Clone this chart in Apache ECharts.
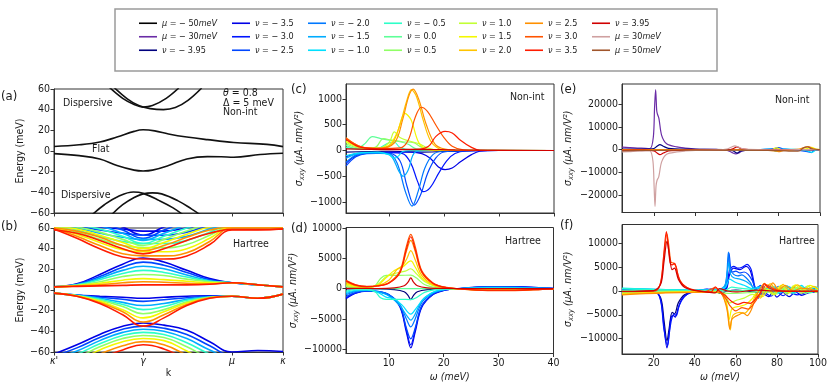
<!DOCTYPE html>
<html>
<head>
<meta charset="utf-8">
<script src="https://cdn.jsdelivr.net/npm/echarts@6/dist/echarts.min.js"></script>
<style>
html, body { margin: 0; padding: 0; background: #fff; }
#chart { width: 830px; height: 384px; }
</style>
</head>
<body>
<div id="chart"></div>
<script>
// ---------- data ----------
const nuKeys = ['-3.95', '-3.5', '-3.0', '-2.5', '-2.0', '-1.5', '-1.0', '-0.5', '0.0', '0.5', '1.0', '1.5', '2.0', '2.5', '3.0', '3.5', '3.95'];
const nuColors = ['#00007e', '#0000e6', '#0014ff', '#0046ff', '#0078ff', '#00acff', '#00e0ff', '#2dffc8', '#5eff98', '#90ff66', '#c2ff34', '#f4f800', '#ffc400', '#ff9000', '#ff5400', '#ff1c00', '#d00000'];
const muNames = ['μ = − 50meV', 'μ = − 30meV', 'μ = 30meV', 'μ = 50meV'];
const muColors = ['#000000', '#6a2ca6', '#cfa0a0', '#a0552b'];

const kTicks = [0, 0.389, 0.777, 1];
const kLabels = ["κ'", 'γ', 'μ', 'κ'];

// (a) non-interacting bands, [k, E(meV)]
const aFlatUp = [[0, 4.4], [0.11, 6], [0.2, 8.7], [0.275, 13.5], [0.35, 19], [0.389, 20.5], [0.44, 19.5], [0.5, 16.5], [0.58, 13.5], [0.67, 11], [0.785, 8.3], [0.93, 6.4], [1, 4.2]];
const aFlatDown = [[0, -2.5], [0.11, -4.5], [0.2, -7.7], [0.275, -14], [0.35, -18.5], [0.389, -19.3], [0.43, -18.5], [0.5, -14], [0.58, -7.7], [0.67, -5.4], [0.73, -5.5], [0.785, -6], [0.9, -3.4], [1, -2.2]];
const aDispUp1 = [[0.24, 62], [0.3, 51], [0.35, 45], [0.389, 42.5], [0.43, 44], [0.49, 51], [0.545, 61]];
const aDispUp2 = [[0.26, 62], [0.32, 50.5], [0.37, 44], [0.42, 41], [0.478, 40], [0.53, 42], [0.585, 49], [0.645, 61]];
const aDispLow1 = [[0.165, -62], [0.22, -52], [0.28, -44], [0.347, -39.7], [0.389, -41], [0.46, -48], [0.52, -55], [0.565, -62]];
const aDispLow2 = [[0.25, -62], [0.3, -52], [0.35, -45], [0.389, -41.5], [0.43, -40.5], [0.47, -41.5], [0.54, -48], [0.6, -56], [0.64, -62]];

// (b) Hartree bands: E(meV) at kB for each filling in bNu
const kB = [0, 0.1, 0.2, 0.3, 0.389, 0.48, 0.58, 0.68, 0.777, 0.89, 1];
const bNu = ['-3.5', '-2.5', '-1.5', '-0.5', '0.5', '1.5', '2.5', '3.5'];
const bUpU = [
  [66, 64, 61, 59, 57, 57, 60, 65, 66, 66, 66],
  [65, 62, 58, 55, 53, 53, 56, 62, 65, 65, 65],
  [64, 60, 55, 51, 49, 49, 52, 59, 64, 64, 64],
  [63, 58, 52, 47, 45, 45, 48, 56, 63, 63, 63],
  [62, 56, 49, 43, 41, 41, 44, 53, 62, 62, 62],
  [61, 54, 46, 39, 37, 37, 40, 50, 61, 61, 61],
  [60, 52, 43, 35, 33, 33, 36, 47, 60, 60, 60],
  [59, 50, 40, 32, 30, 30, 33, 44, 58, 58, 59]
];
const bUpV = [
  [70, 70, 68, 61, 53, 61, 68, 70, 70, 70, 70],
  [70, 68, 65, 58, 50, 58, 66, 70, 70, 70, 70],
  [68, 66, 62, 55, 48, 55, 63, 68, 70, 70, 70],
  [66, 63, 59, 52, 45, 52, 60, 66, 68, 68, 68],
  [64, 61, 56, 49, 43, 49, 57, 64, 66, 66, 66],
  [62, 59, 53, 46, 40, 46, 54, 61, 63, 63, 63],
  [60, 57, 51, 43, 38, 43, 51, 58, 61, 61, 61],
  [58, 55, 48, 40, 35, 40, 48, 55, 58.5, 58.5, 59]
];
const bUpFlat = [
  [3, 6, 15, 25, 31, 27, 19, 11, 7, 5, 3],
  [3, 5.5, 13, 22, 27, 24, 17, 10, 7, 5, 3],
  [3, 5, 11.5, 19, 23, 20.5, 14.5, 9, 7, 5, 3],
  [3, 5, 10, 16, 19, 17, 12.5, 8.5, 7, 5, 3],
  [3, 4.5, 8, 13, 15, 14, 10.5, 8, 7, 5, 3],
  [3, 4, 6.5, 9.5, 11, 10, 8.5, 7, 7, 5, 3],
  [3, 4, 5, 7, 8, 7.5, 6.5, 6, 7, 5, 3],
  [3, 3.5, 4, 4.5, 5, 5, 5, 5.5, 7, 5, 3]
];
const bLowFlat = [
  [-3, -5, -6, -7, -8, -7, -6, -5.5, -6, -8, -4],
  [-3, -5, -7, -9, -11, -9.5, -7.5, -6, -6, -8, -4],
  [-3, -5, -8, -12, -15, -13, -9, -6.5, -6, -8, -4],
  [-3, -5.5, -9, -14, -19, -16, -10, -7, -6, -8, -4],
  [-3, -5.5, -10, -16, -23, -19, -11.5, -7, -6, -8, -4],
  [-3, -5.5, -11, -19, -27, -21, -12.5, -7.5, -6, -8, -4],
  [-3, -6, -12, -21, -31, -24, -14, -7.5, -6, -8, -4],
  [-3, -6, -13, -24, -35, -27, -15, -8, -6, -8, -4]
];
const bLowHill = [
  [-62, -53, -43, -35, -32, -34, -39, -50, -60, -58.5, -59.5],
  [-64, -56, -46, -38, -35, -37, -43, -54, -63, -62, -62],
  [-66, -59, -49, -41, -38, -40, -47, -58, -66, -65, -65],
  [-68, -62, -52, -44, -41, -43, -51, -62, -69, -68, -68],
  [-70, -65, -55, -47, -44, -46, -55, -66, -72, -70, -70],
  [-72, -68, -58, -50, -47, -49, -59, -70, -75, -72, -72],
  [-74, -71, -62, -54, -50, -53, -63, -73, -78, -75, -75],
  [-76, -74, -66, -58, -53, -57, -67, -76, -80, -78, -78]
];

// (c) non-interacting sigma_xxy, [omega(meV), value], one curve per nuKeys entry
const cCurves = [
  [[2.2, -30], [10, -15], [16, -30], [20, -20], [28, 0], [40, 0]],
  [[2.2, -120], [4, -60], [6, -40], [10, -30], [14, -30], [16, -60], [17.5, -150], [19, -320], [20.2, -370], [21.5, -340], [23, -220], [25, -80], [26.5, -15], [30, 0], [40, 0]],
  [[2.2, -250], [4, -100], [6, -50], [10, -40], [12.5, -60], [14, -250], [15.2, -600], [16.2, -800], [17.5, -720], [19, -450], [20.5, -200], [22, -60], [24, -10], [30, 0], [40, 0]],
  [[2.2, -300], [4, -120], [6, -60], [10, -50], [12, -200], [13.3, -700], [14.6, -1060], [15.8, -850], [17, -450], [18.5, -150], [20, -30], [25, 0], [40, 0]],
  [[2.2, -230], [4, -90], [6, -50], [10, -60], [11.5, -250], [13, -800], [14.2, -1080], [15.3, -800], [16.5, -350], [18, -80], [20, -10], [25, 0], [40, 0]],
  [[2.2, -150], [4, -70], [6, -40], [9, -50], [10.5, -120], [11.8, -400], [12.6, -500], [13.5, -380], [14.3, -100], [15, -20], [18, 0], [40, 0]],
  [[2.2, -100], [5, -40], [8, -30], [10, -80], [11, -150], [11.8, -100], [12.5, -20], [15, 0], [40, 0]],
  [[2.2, 60], [5, 20], [8, 40], [10, 150], [11, 160], [12, 60], [14, 10], [40, 0]],
  [[2.2, 100], [4, 40], [5.5, 120], [7, 270], [8.5, 230], [10, 200], [12, 170], [13.5, 120], [15, 30], [18, 0], [40, 0]],
  [[2.2, 130], [5, 40], [7.5, 60], [9, 230], [10.5, 200], [12.5, 170], [14.5, 150], [16, 60], [18, 5], [40, 0]],
  [[2.2, 160], [5, 50], [8, 40], [10, 150], [11, 360], [12, 250], [13.5, 190], [15.5, 130], [17, 50], [19, 5], [40, 0]],
  [[2.2, 180], [5, 60], [8, 40], [10, 100], [11.5, 350], [12.9, 720], [14, 600], [15.3, 180], [16.5, 40], [19, 0], [40, 0]],
  [[2.2, 220], [5, 60], [8, 40], [10.5, 130], [12, 500], [13.2, 950], [14.1, 1180], [15, 1050], [16.2, 600], [17.5, 200], [19, 40], [21, 0], [40, 0]],
  [[2.2, 250], [5, 70], [8, 40], [11, 150], [12.5, 600], [13.6, 1050], [14.4, 1190], [15.4, 1000], [16.8, 500], [18.4, 120], [20.2, 25], [23, 0], [40, 0]],
  [[2.2, 240], [5, 70], [8, 40], [12, 50], [13.5, 200], [14.8, 650], [15.9, 840], [17, 760], [18.5, 500], [20, 250], [21.5, 80], [23.5, 10], [26, 0], [40, 0]],
  [[2.2, 220], [5, 60], [10, 30], [15, 20], [17.2, 80], [18.5, 270], [20.2, 370], [21.5, 340], [23, 200], [25, 60], [26.5, 5], [30, 0], [40, 0]],
  [[2.2, 30], [10, 15], [16, 20], [22, 10], [40, 0]]
];

// (d) Hartree sigma_xxy, one curve per nuKeys entry
const dCurves = [
  [[2.2, -50], [8, -40], [11, -150], [12.8, -500], [13.5, -1100], [14, -1800], [14.5, -1100], [15.2, -500], [17, -150], [20, -40], [40, 0]],
  [[2.2, -1650], [4, -750], [6, -420], [8, -520], [10, -1050], [12, -3000], [13.2, -7200], [14, -9800], [14.8, -7200], [16, -3100], [18, -1000], [20, -300], [23, 50], [28, 350], [33, 360], [38, 150], [40, 60]],
  [[2.2, -1500], [4, -680], [6, -380], [8, -480], [10, -1000], [12, -2800], [13.2, -6800], [14, -9300], [14.8, -6800], [16, -2900], [18, -950], [20, -280], [23, 40], [28, 320], [33, 330], [38, 130], [40, 50]],
  [[2.2, -1300], [4, -600], [6, -350], [8, -450], [10, -950], [12, -2700], [13.2, -6500], [14, -8300], [14.8, -6500], [16, -2800], [18, -900], [20, -250], [23, 40], [28, 300], [33, 300], [38, 120], [40, 40]],
  [[2.2, -1000], [4, -450], [6, -300], [8, -450], [10, -1000], [12, -2600], [13.2, -5000], [14, -6300], [14.8, -5000], [16, -2300], [18, -750], [20, -200], [23, 30], [28, 250], [33, 230], [38, 80], [40, 30]],
  [[2.2, -800], [4, -350], [6, -250], [8, -500], [10, -1200], [12, -2800], [13.3, -4500], [14, -5200], [14.8, -4200], [16, -2000], [18, -650], [20, -150], [23, 30], [28, 200], [33, 180], [38, 60], [40, 20]],
  [[2.2, -600], [4, -250], [6, -200], [8, -600], [9.5, -1400], [11, -1700], [12.5, -2800], [14, -4200], [15, -3200], [16.5, -1500], [18.5, -400], [21, -50], [28, 150], [33, 120], [40, 10]],
  [[2.2, -400], [4, -150], [6, -150], [7.5, -500], [8.5, -1500], [9.5, -1750], [12, -1750], [14, -1800], [15, -1500], [16.5, -600], [18.5, -150], [21, -20], [28, 60], [40, 0]],
  [[2.2, 100], [6, 30], [10, 20], [14, 40], [20, 10], [40, 0]],
  [[2.2, 400], [4, 150], [6, 150], [7.5, 500], [8.5, 1700], [9.5, 2200], [12, 2200], [14, 2250], [15, 1800], [16.5, 700], [18.5, 200], [21, 20], [28, -60], [40, 0]],
  [[2.2, 600], [4, 250], [6, 200], [8, 700], [9.5, 2000], [11, 2500], [13, 2900], [14, 3300], [15, 2500], [16.5, 1200], [18.5, 400], [21, 50], [28, -120], [33, -100], [40, -10]],
  [[2.2, 800], [4, 350], [6, 250], [8, 600], [9.5, 1800], [11, 3000], [12.5, 3600], [14, 4600], [14.8, 3600], [16, 1800], [18, 600], [20, 150], [23, -20], [28, -180], [33, -160], [38, -60], [40, -20]],
  [[2.2, 1000], [4, 450], [6, 300], [8, 500], [10, 1400], [11.5, 3200], [12.5, 3800], [13.3, 5000], [14, 6300], [14.8, 4800], [16, 2200], [18, 700], [20, 200], [23, -30], [28, -220], [33, -200], [38, -80], [40, -30]],
  [[2.2, 1200], [4, 550], [6, 330], [8, 450], [10, 950], [12, 2700], [13.2, 6200], [14, 8000], [14.8, 6200], [16, 2700], [18, 900], [20, 250], [23, -40], [28, -280], [33, -250], [38, -100], [40, -40]],
  [[2.2, 1400], [4, 650], [6, 380], [8, 500], [10, 1000], [12, 2900], [13.2, 7000], [14, 9000], [14.8, 7000], [16, 3000], [18, 1000], [20, 300], [23, -50], [28, -300], [33, -300], [38, -120], [40, -60]],
  [[2.2, 1300], [4, 600], [6, 350], [8, 450], [10, 900], [12, 2600], [13.2, 6500], [14, 8600], [14.8, 6500], [16, 2800], [18, 900], [20, 250], [23, -50], [28, -250], [33, -250], [38, -100], [40, -50]],
  [[2.2, 50], [8, 40], [11, 150], [12.8, 500], [13.5, 1100], [14, 1800], [14.5, 1100], [15.2, 500], [17, 150], [20, 40], [40, 0]]
];

// (e) non-interacting, wide range: named curves
const eNames = ['μ = − 50meV', 'μ = − 30meV', 'ν = − 3.95', 'ν = − 2.5', 'ν = − 1.0', 'ν = 1.5', 'ν = 2.5', 'ν = 3.95', 'μ = 30meV', 'μ = 50meV'];
const eCurves = [
  [[4.6, -200], [20, -100], [40, -50], [60, 0], [80, 0], [100, 0]],
  [[4.6, 1100], [8, 900], [12, 700], [16, 600], [18.1, 440], [19.7, 5600], [20.3, 18800], [20.8, 26500], [21.3, 17500], [21.6, 15900], [22.4, 13700], [23.7, 6300], [26.1, 2600], [31, 1200], [35, 700], [40, 300], [50, 100], [55, -200], [57.5, -1200], [59.5, -1900], [61, -1400], [62.5, -600], [64, -300], [70, 0], [80, 100], [90, 0], [100, 0]],
  [[4.6, 300], [15, 200], [20, 500], [21.5, 1500], [22.9, 2200], [24.5, 1500], [27, 600], [35, 200], [56, 0], [58, -500], [60, -1500], [62, -500], [70, 0], [100, 0]],
  [[4.6, 0], [70, 0], [78, 500], [80, 900], [83, 200], [90, -300], [94.5, -1000], [95.8, -1300], [97, -300], [100, 0]],
  [[4.6, 0], [70, 0], [76, 300], [79, -800], [82, 200], [90, 0], [94, -600], [96, -1200], [98, -200], [100, 0]],
  [[4.6, 0], [70, 0], [76, -300], [79, 800], [82, -200], [90, 0], [94, 500], [96, 1000], [98, 200], [100, 0]],
  [[4.6, 0], [70, 0], [78, -500], [80, -900], [83, -200], [90, 300], [94.5, 1300], [97, 300], [100, 0]],
  [[4.6, -300], [15, -200], [20, -500], [21.5, -1500], [22.9, -2200], [24.5, -1500], [27, -600], [35, -200], [56, 0], [58, 400], [60, 1200], [62, 400], [70, 0], [100, 0]],
  [[4.6, -1000], [8, -900], [12, -700], [16, -600], [18, -500], [19.5, -5000], [20.1, -17000], [20.5, -25000], [21, -16000], [21.5, -13500], [22.3, -12000], [23.7, -5400], [26.1, -2000], [31, -1000], [35, -600], [40, -300], [50, -100], [55, 200], [57.5, 1200], [59, 1700], [60.5, 1200], [62.5, 500], [64, 200], [70, 0], [80, -100], [90, 0], [100, 0]],
  [[4.6, -500], [20, -300], [40, -200], [60, -200], [80, -400], [88, -700], [90, -600], [92, 800], [94, 1200], [96, 400], [100, 0]]
];

// (f) Hartree, wide range: named curves
const fNames = ['ν = − 3.95', 'ν = − 3.5', 'ν = − 3.0', 'ν = − 2.5', 'ν = − 2.0', 'ν = − 1.5', 'ν = − 1.0', 'ν = − 0.5', 'ν = 0.0', 'ν = 0.5', 'ν = 1.0', 'ν = 1.5', 'ν = 2.0', 'ν = 2.5', 'ν = 3.0', 'ν = 3.5', 'ν = 3.95'];
const fCurves = [
  [[4.6, 50], [20, -100], [23.5, -1500], [25, -6000], [26.5, -10500], [27.5, -8000], [29, -4500], [30.2, -4800], [32, -2500], [35, -800], [40, -100], [45, 200], [50, 400], [52, -500], [56, 0], [60, 200], [70, -200], [80, 0], [100, 0]],
  [[4.6, 100], [15, 50], [21, -100], [23.5, -2000], [25, -7500], [26.5, -12000], [27.4, -9500], [28.5, -5500], [29.7, -5200], [30.5, -5500], [32, -3500], [34, -1500], [37, -500], [40, -100], [45, 300], [48, 400], [50, -200], [53, 0], [55.5, 500], [57, 3500], [59, 4800], [62, 4500], [65, 5200], [67, 4300], [69, 1000], [71, -1500], [73, -500], [76, -1200], [78, -200], [80, -1300], [83, -300], [86, -1200], [89, -200], [92, -900], [96, -300], [100, -200]],
  [[4.6, 150], [15, 80], [21, -100], [23.5, -2200], [25, -8000], [26.8, -11500], [27.6, -9000], [28.7, -6000], [30, -4800], [31, -5200], [32.5, -3000], [35, -1200], [38, -300], [42, 100], [46, 400], [50, -300], [53, 0], [55.5, 800], [57, 4500], [59, 5200], [61, 4800], [63, 5000], [65.5, 5600], [67.5, 4500], [69.5, 500], [71.5, -1000], [74, -400], [77, -1100], [80, -200], [83, -1000], [86, -300], [90, -800], [95, -200], [100, -100]],
  [[4.6, 300], [20, 100], [40, 100], [50, 200], [54, 400], [55.5, 2000], [56.7, 8000], [57.5, 5000], [58.5, 4000], [60, 4200], [62, 3800], [64, 4000], [66, 3500], [68, 2200], [70, 500], [72, 1200], [74, 0], [76, 1100], [78, 100], [81, 1000], [84, 0], [88, 800], [92, -200], [96, 600], [100, 0]],
  [[4.6, 400], [20, 150], [40, 150], [50, 250], [54, 500], [55.5, 3000], [56.4, 8200], [57.3, 4500], [59, 3500], [61, 3200], [63, 3400], [65, 2800], [67, 1800], [69, 400], [71, 900], [73, -200], [76, 800], [79, -300], [82, 700], [86, -300], [90, 600], [94, -200], [98, 500], [100, 200]],
  [[4.6, 500], [40, 200], [52, 300], [55, 1500], [56.5, 6000], [57.5, 3500], [59, 2800], [62, 2500], [65, 2000], [68, 1000], [70, 300], [73, 1000], [76, -200], [79, 900], [82, -300], [86, 900], [90, -200], [94, 800], [97, -100], [100, 400]],
  [[4.6, 600], [40, 200], [52, 300], [55, 800], [57, 2500], [60, 1800], [64, 1200], [68, 500], [72, 800], [75, -200], [78, 1000], [81, -400], [85, 1100], [88, -300], [92, 1200], [95, -100], [99, 900], [100, 600]],
  [[4.6, 500], [40, 150], [55, 200], [58, 800], [62, 600], [68, 300], [72, -300], [76, 600], [80, -600], [84, 800], [88, -500], [92, 900], [96, -400], [100, 800]],
  [[4.6, 100], [40, 0], [60, 50], [70, 100], [75, -300], [80, 300], [85, -400], [90, 500], [95, -300], [100, 300]],
  [[4.6, -300], [40, -100], [58, -500], [64, -400], [70, -200], [74, 500], [78, -500], [82, 700], [86, -400], [90, 800], [94, -500], [98, 900], [100, 400]],
  [[4.6, -500], [40, -200], [52, -300], [55, -800], [57, -2500], [60, -2000], [64, -1500], [68, -700], [72, -1000], [75, 300], [78, -800], [81, 900], [85, -700], [88, 1100], [92, -500], [95, 1100], [99, -300], [100, 0]],
  [[4.6, -600], [40, -200], [52, -300], [55, -1500], [56.8, -6000], [57.8, -4000], [59, -3500], [62, -3200], [65, -2800], [68, -1600], [70, -500], [73, -1200], [76, 300], [79, -800], [82, 1200], [86, -300], [89, 1300], [93, -200], [96, 1200], [100, 300]],
  [[4.6, -700], [40, -200], [52, -300], [55.5, -3000], [57.3, -8200], [58.2, -5500], [59.5, -4800], [62, -4500], [64, -4700], [66, -4000], [68, -2500], [70, -800], [72, -1500], [74, 300], [77, 1500], [80, -200], [83, 1400], [86, -100], [90, 1300], [94, 0], [98, 1000], [100, 400]],
  [[4.6, -800], [40, -300], [52, -300], [55.5, -3500], [57.1, -8000], [58, -6000], [59.5, -5400], [61.5, -5000], [63.5, -4600], [65.5, -5200], [67.5, -4000], [69.5, -1500], [71.5, 300], [74, 1600], [76, 600], [78, 1700], [81, 200], [84, 1200], [88, 0], [92, 600], [100, 0]],
  [[4.6, -150], [15, -80], [21, 80], [23.5, 1800], [25, 7500], [26.5, 12000], [27.4, 9500], [28.5, 6000], [29.7, 5900], [31, 5000], [32, 3000], [34, 1500], [37, 500], [40, 100], [45, -100], [50, 700], [52, -100], [55, -1500], [57, -3000], [60, -4200], [63, -3500], [66, -3800], [69, -2500], [72, -500], [75, 1300], [78, 600], [82, 0], [90, -100], [100, -100]],
  [[4.6, -100], [15, -50], [21, 100], [23.5, 2000], [25, 8000], [26.2, 12500], [27, 10000], [28, 6000], [29, 5500], [30.2, 5800], [31.5, 4000], [33, 2000], [36, 800], [40, 200], [45, -100], [48, -200], [50, 900], [52, 0], [55, -1000], [58, -2200], [61, -2800], [64, -2400], [67, -2600], [70, -1500], [72, -300], [74, 1500], [76, 700], [80, 100], [90, -100], [100, -100]],
  [[4.6, -50], [20, 100], [23.5, 1500], [25, 6000], [26.5, 10500], [27.5, 8000], [29, 4500], [30.2, 4800], [32, 2500], [35, 800], [40, 100], [45, -200], [50, -400], [52, 500], [56, 0], [60, -200], [70, 200], [80, 0], [100, 0]]
];

// ---------- helpers ----------
const FONT = "'DejaVu Sans Condensed', 'DejaVu Sans', sans-serif";
const TXT = '#1a1a1a';
const EDGE = '#333';
const TICK_FS = 10.5;

function nuName(k) {
  return 'ν = ' + (k[0] === '-' ? '− ' + k.slice(1) : k);
}
const colorByName = {};
nuKeys.forEach((k, i) => { colorByName[nuName(k)] = nuColors[i]; });
muNames.forEach((n, i) => { colorByName[n] = muColors[i]; });

function minus(v) {
  return String(v).replace('-', '−');
}

function line(gi, name, color, data, width, smooth) {
  return {
    type: 'line', name: name, xAxisIndex: gi, yAxisIndex: gi, data: data,
    symbol: 'none', showSymbol: false, smooth: smooth, silent: true,
    lineStyle: { width: width, color: color }, itemStyle: { color: color }
  };
}

const gridPos = [
  { left: 54, top: 89, width: 229, height: 124 },
  { left: 54, top: 228, width: 229, height: 124 },
  { left: 346, top: 84, width: 208, height: 129 },
  { left: 346, top: 227.5, width: 207.5, height: 126 },
  { left: 622, top: 84, width: 198, height: 128.5 },
  { left: 622, top: 224.5, width: 198, height: 129.5 }
];

function xAx(i, min, max, ticks, showLabel, fmt, name, gap) {
  return {
    type: 'value', gridIndex: i, min: min, max: max,
    name: name || '', nameLocation: 'middle', nameGap: gap || 0,
    nameTextStyle: {
      fontFamily: FONT, fontSize: 10.5, color: TXT,
      rich: { i: { fontFamily: FONT, fontSize: 10.5, fontStyle: 'italic', color: TXT } }
    },
    axisLine: { show: true, onZero: false, lineStyle: { color: EDGE, width: 1 } },
    axisTick: { show: true, length: 3.5, customValues: ticks, lineStyle: { color: EDGE } },
    axisLabel: {
      show: showLabel, customValues: ticks, margin: 4, showMinLabel: true, showMaxLabel: true,
      fontFamily: FONT, fontSize: TICK_FS, color: TXT, formatter: fmt || minus
    },
    splitLine: { show: false }
  };
}

function yAx(i, min, max, ticks, name, gap) {
  return {
    type: 'value', gridIndex: i, min: min, max: max,
    name: name, nameLocation: 'middle', nameGap: gap, nameRotate: 90,
    nameTextStyle: {
      fontFamily: FONT, fontSize: 10.5, color: TXT,
      rich: {
        i: { fontFamily: FONT, fontSize: 10.5, fontStyle: 'italic', color: TXT },
        s: { fontFamily: FONT, fontSize: 7.5, fontStyle: 'italic', color: TXT, padding: [6, 0, 0, 0] }
      }
    },
    axisLine: { show: true, onZero: false, lineStyle: { color: EDGE, width: 1 } },
    axisTick: { show: true, length: 3.5, customValues: ticks, lineStyle: { color: EDGE } },
    axisLabel: {
      customValues: ticks, margin: 4, showMinLabel: true, showMaxLabel: true,
      fontFamily: FONT, fontSize: TICK_FS, color: TXT, formatter: minus
    },
    splitLine: { show: false }
  };
}

const sigmaName = '{i|σ}{s|xxy}{i| (μA. nm/V²)}';
const omegaName = '{i|ω (meV)}';
const eTicks = [-60, -40, -20, 0, 20, 40, 60];

// ---------- series ----------
const series = [];
[aFlatUp, aFlatDown, aDispUp1, aDispUp2, aDispLow1, aDispLow2].forEach(d => {
  series.push(line(0, 'band', '#111', d, 1.6, 0.4));
});
bNu.forEach((k, j) => {
  const c = colorByName[nuName(k)];
  [bUpU, bUpV, bUpFlat, bLowFlat, bLowHill].forEach(band => {
    series.push(line(1, nuName(k), c, kB.map((x, n) => [x, band[j][n]]), 1.6, 0.45));
  });
});
nuKeys.forEach((k, i) => {
  series.push(line(2, nuName(k), nuColors[i], cCurves[i], 1.2, 0.35));
});
nuKeys.forEach((k, i) => {
  series.push(line(3, nuName(k), nuColors[i], dCurves[i], 1.2, 0.35));
});
eNames.forEach((n, i) => {
  series.push(line(4, n, colorByName[n], eCurves[i], 1.2, 0.3));
});
fNames.forEach((n, i) => {
  series.push(line(5, n, colorByName[n], fCurves[i], 1.2, 0.3));
});

// ---------- legend ----------
const legendCols = [
  [muNames[0], muNames[1], nuName('-3.95')],
  [nuName('-3.5'), nuName('-3.0'), nuName('-2.5')],
  [nuName('-2.0'), nuName('-1.5'), nuName('-1.0')],
  [nuName('-0.5'), nuName('0.0'), nuName('0.5')],
  [nuName('1.0'), nuName('1.5'), nuName('2.0')],
  [nuName('2.5'), nuName('3.0'), nuName('3.5')],
  [nuName('3.95'), muNames[2], muNames[3]]
];
const legendX = [139, 232, 308, 384, 459, 525, 592];
const legends = legendCols.map((names, i) => ({
  orient: 'vertical', left: legendX[i], top: 16.5, data: names,
  icon: 'rect', itemWidth: 18, itemHeight: 1.6, itemGap: 0, padding: 0,
  selectedMode: false,
  textStyle: {
    fontFamily: FONT, fontSize: 9, color: TXT, lineHeight: 13.5,
    rich: { i: { fontFamily: FONT, fontSize: 9, fontStyle: 'italic', color: TXT, lineHeight: 13.5 } }
  },
  formatter: n => n.replace(/^([μν])/, '{i|$1}').replace('meV', '{i|meV}')
}));

// ---------- annotations ----------
function txt(x, y, s, size) {
  return {
    type: 'text', left: x, top: y,
    style: {
      text: s, fontFamily: FONT, fontSize: size, fill: TXT,
      rich: { i: { fontFamily: FONT, fontSize: size, fontStyle: 'italic', fill: TXT } }
    }
  };
}
const graphics = [
  { type: 'rect', shape: { x: 115, y: 9, width: 602, height: 62 }, style: { fill: 'none', stroke: '#9a9a9a', lineWidth: 1.5 } },
  txt(1, 90, '(a)', 13), txt(1, 220, '(b)', 13),
  txt(291, 83, '(c)', 13), txt(291, 222, '(d)', 13),
  txt(560, 83, '(e)', 13), txt(560, 219, '(f)', 13),
  txt(63, 98, 'Dispersive', 10.5), txt(92, 144, 'Flat', 10.5), txt(61, 190, 'Dispersive', 10.5),
  txt(223, 88, '{i|θ} = 0.8', 10.5), txt(223, 97.5, 'Δ = 5 meV', 10.5), txt(223, 107, 'Non-int', 10.5),
  txt(233, 239, 'Hartree', 10.5),
  txt(510, 91.5, 'Non-int', 10.5), txt(505, 235.5, 'Hartree', 10.5),
  txt(775, 94.5, 'Non-int', 10.5), txt(779, 235.5, 'Hartree', 10.5)
];

const option = {
  animation: false,
  backgroundColor: '#fff',
  legend: legends,
  graphic: graphics,
  grid: gridPos.map(g => Object.assign({ show: true, borderColor: EDGE, borderWidth: 1, backgroundColor: 'transparent' }, g)),
  xAxis: [
    xAx(0, 0, 1, kTicks, false),
    xAx(1, 0, 1, kTicks, true, v => kLabels[kTicks.indexOf(v)], 'k', 16),
    xAx(2, 2.2, 40, [10, 20, 30, 40], false),
    xAx(3, 2.2, 40, [10, 20, 30, 40], true, null, omegaName, 18),
    xAx(4, 4.6, 100, [20, 40, 60, 80, 100], false),
    xAx(5, 4.6, 100, [20, 40, 60, 80, 100], true, null, omegaName, 18)
  ],
  yAxis: [
    yAx(0, -60, 60, eTicks, 'Energy (meV)', 25),
    yAx(1, -60, 60, eTicks, 'Energy (meV)', 25),
    yAx(2, -1214, 1291, [-1000, -500, 0, 500, 1000], sigmaName, 40),
    yAx(3, -10720, 10130, [-10000, -5000, 0, 5000, 10000], sigmaName, 41),
    yAx(4, -27700, 28940, [-20000, -10000, 0, 10000, 20000], sigmaName, 47),
    yAx(5, -13260, 14000, [-10000, -5000, 0, 5000, 10000], sigmaName, 47)
  ],
  series: series
};
option.xAxis[1].axisLabel.fontStyle = 'italic';

const chart = echarts.init(document.getElementById('chart'), null, { renderer: 'canvas' });
chart.setOption(option);
</script>
</body>
</html>
